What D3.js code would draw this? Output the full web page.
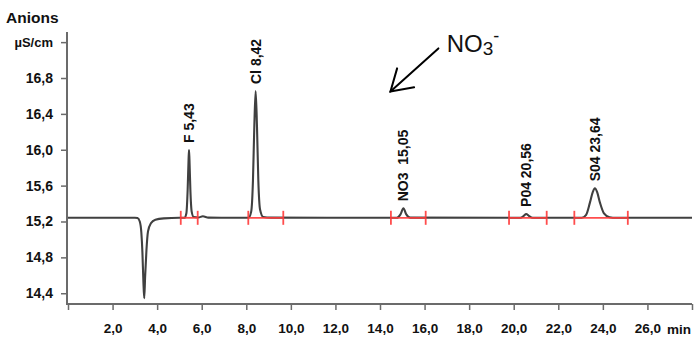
<!DOCTYPE html>
<html>
<head>
<meta charset="utf-8">
<script src="https://cdn.jsdelivr.net/npm/d3@7"></script>
<style>
  html, body { margin: 0; padding: 0; background: #fff; }
  svg { display: block; }
  text { font-family: Arial, "Liberation Sans", sans-serif; }
</style>
</head>
<body>
<svg id="chart" width="699" height="342"></svg>
<script>
// ---- data ----
const traceTime = [0, 3.0, 3.12, 3.22, 3.29, 3.34, 3.38, 3.42, 3.46, 3.52, 3.59, 3.72, 3.92, 4.3, 5.0,
  5.22, 5.31, 5.37, 5.41, 5.43, 5.45, 5.49, 5.55, 5.64, 5.85, 6.05, 6.3,
  8.10, 8.22, 8.30, 8.36, 8.42, 8.48, 8.54, 8.62, 8.76, 9.1,
  14.75, 14.92, 15.05, 15.18, 15.36,
  20.30, 20.45, 20.56, 20.68, 20.85,
  23.05, 23.25, 23.42, 23.55, 23.64, 23.74, 23.87, 24.05, 24.3, 24.6, 28];
const traceValue = [15.241, 15.241, 15.238, 15.20, 15.08, 14.85, 14.55, 14.344, 14.58, 14.88, 15.09, 15.18, 15.22, 15.235, 15.241,
  15.241, 15.29, 15.56, 15.89, 15.997, 15.89, 15.56, 15.31, 15.25, 15.245, 15.258, 15.243,
  15.241, 15.31, 15.66, 16.26, 16.655, 16.26, 15.66, 15.33, 15.25, 15.243,
  15.241, 15.28, 15.347, 15.28, 15.243,
  15.241, 15.262, 15.284, 15.262, 15.241,
  15.241, 15.275, 15.41, 15.53, 15.57, 15.53, 15.41, 15.29, 15.247, 15.241, 15.241];

const peakNames = ["F 5,43", "Cl 8,42", "NO3  15,05", "P04 20,56", "S04 23,64"];
const peakTimes = [5.43, 8.42, 15.05, 20.56, 23.64];
const peakTops  = [15.997, 16.655, 15.347, 15.284, 15.57];
const intStart  = [5.06, 8.09, 14.49, 19.79, 22.72];
const intEnd    = [5.82, 9.66, 16.05, 21.48, 25.12];
const baseline  = 15.241;

const xTicks = [0, 2, 4, 6, 8, 10, 12, 14, 16, 18, 20, 22, 24, 26, 28];
const xTickLabels = ["", "2,0", "4,0", "6,0", "8,0", "10,0", "12,0", "14,0", "16,0", "18,0", "20,0", "22,0", "24,0", "26,0", ""];
const yTicks = [14.4, 14.8, 15.2, 15.6, 16.0, 16.4, 16.8, 17.2];
const yTickLabels = ["14,4", "14,8", "15,2", "15,6", "16,0", "16,4", "16,8", "µS/cm"];

const arrowFrom = [16.62, 17.13];
const arrowTo   = [14.47, 16.65];
const annotationPos = [16.99, 17.09];

// ---- scales ----
const svg = d3.select("#chart");
const x = d3.scaleLinear().domain([0, 28]).range([68, 692]);
const y = d3.scaleLinear().domain([14.28, 17.313]).range([304, 32]);

const axisColor = "#6b6b6b";

// y axis
const yAxis = d3.axisLeft(y).tickValues(yTicks).tickSize(6).tickPadding(8)
  .tickFormat((d, i) => yTickLabels[i]);
const gy = svg.append("g").attr("transform", `translate(${x(0) - 1},0)`).call(yAxis);
gy.select(".domain").attr("stroke", axisColor).attr("stroke-width", 2)
  .attr("d", `M0,${y.range()[1]}V${y.range()[0] + 1}`);
gy.selectAll(".tick line").attr("stroke", axisColor).attr("stroke-width", 1.5);
gy.selectAll(".tick text").attr("fill", "#111").attr("font-weight", "bold")
  .attr("font-size", (d, i) => i === yTicks.length - 1 ? "13px" : "14px");

// x axis
const xAxis = d3.axisBottom(x).tickValues(xTicks).tickSize(6).tickPadding(13)
  .tickFormat((d, i) => xTickLabels[i]);
const gx = svg.append("g").attr("transform", `translate(0,${y.range()[0]})`).call(xAxis);
gx.select(".domain").attr("stroke", axisColor).attr("stroke-width", 2)
  .attr("d", `M${x(0) - 2},0H${x(28)}`);
gx.selectAll(".tick line").attr("stroke", axisColor).attr("stroke-width", 1.5);
gx.selectAll(".tick text").attr("fill", "#111").attr("font-weight", "bold").attr("font-size", "13.5px");

svg.append("text").attr("x", 667).attr("y", 334)
  .attr("font-weight", "bold").attr("font-size", "13.5px").attr("fill", "#111").text("min");

// title
svg.append("text").attr("x", 6).attr("y", 23)
  .attr("font-weight", "bold").attr("font-size", "15.5px").attr("fill", "#111").text("Anions");

// trace
const pts = traceTime.map((t, i) => [t, traceValue[i]]);
const line = d3.line().x(d => x(d[0])).y(d => y(d[1])).curve(d3.curveMonotoneX);
svg.append("path").datum(pts).attr("d", line)
  .attr("fill", "none").attr("stroke", "#404040").attr("stroke-width", 2.1)
  .attr("stroke-linejoin", "round");

// integration markers
const red = "#ff3a3a";
const gi = svg.append("g").attr("stroke", red).attr("stroke-width", 1.8).attr("opacity", 0.9);
intStart.forEach((s, i) => {
  const e = intEnd[i];
  gi.append("line").attr("x1", x(s)).attr("x2", x(e)).attr("y1", y(baseline)).attr("y2", y(baseline));
  [s, e].forEach(t => {
    gi.append("line").attr("x1", x(t)).attr("x2", x(t))
      .attr("y1", y(baseline) - 7).attr("y2", y(baseline) + 7);
  });
});

// peak labels
peakNames.forEach((name, i) => {
  const px = x(peakTimes[i]);
  const py = y(peakTops[i]) - 7;
  svg.append("text")
    .attr("transform", `translate(${px},${py}) rotate(-90)`)
    .attr("dy", "0.36em")
    .attr("font-weight", "bold").attr("font-size", "14px").attr("fill", "#111")
    .style("white-space", "pre")
    .text(name);
});

// NO3- annotation with arrow
const ax1 = x(arrowFrom[0]), ay1 = y(arrowFrom[1]);
const ax2 = x(arrowTo[0]), ay2 = y(arrowTo[1]);
const ang = Math.atan2(ay1 - ay2, ax1 - ax2);
const headLen = 24, spread = 32 * Math.PI / 180;
const ga = svg.append("g").attr("stroke", "#000").attr("stroke-width", 2).attr("fill", "none")
  .attr("stroke-linecap", "round");
ga.append("line").attr("x1", ax1).attr("y1", ay1).attr("x2", ax2).attr("y2", ay2);
ga.append("polyline").attr("points", [
  [ax2 + headLen * Math.cos(ang - spread), ay2 + headLen * Math.sin(ang - spread)],
  [ax2, ay2],
  [ax2 + headLen * Math.cos(ang + spread), ay2 + headLen * Math.sin(ang + spread)]
].map(p => p.join(",")).join(" "));

const ann = svg.append("text").attr("x", x(annotationPos[0])).attr("y", y(annotationPos[1]))
  .attr("fill", "#111").attr("font-size", "24px");
ann.append("tspan").text("NO");
ann.append("tspan").attr("dy", 3).attr("font-size", "19px").text("3");
ann.append("tspan").attr("dy", -13).attr("font-size", "18px").text("-");
</script>
</body>
</html>
